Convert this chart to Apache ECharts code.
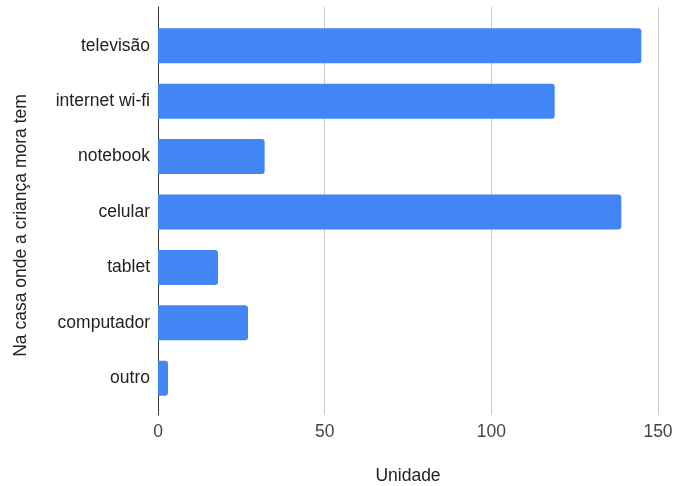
<!DOCTYPE html>
<html>
<head>
<meta charset="utf-8">
<script src="https://cdn.jsdelivr.net/npm/echarts@6/dist/echarts.min.js"></script>
<style>
  html, body { margin: 0; padding: 0; background: #fff; }
  #chart { width: 675px; height: 486px; }
</style>
</head>
<body>
<div id="chart"></div>
<script>
// Itens presentes na casa onde a criança mora
const categories = ['televisão', 'internet wi-fi', 'notebook', 'celular', 'tablet', 'computador', 'outro'];
const values = [145, 119, 32, 139, 18, 27, 3];
const xTicks = { min: 0, max: 150, interval: 50 };
const xTitle = 'Unidade';
const yTitle = 'Na casa onde a criança mora tem';

const font = 'Arial, "Liberation Sans", sans-serif';
const fs = 17.5;
const chart = echarts.init(document.getElementById('chart'), null, { renderer: 'canvas' });

chart.setOption({
  backgroundColor: '#ffffff',
  animation: false,
  grid: [
    // frame grid: gridlines, x labels, baseline and axis titles
    { left: 158, right: 17, top: 7, bottom: 71, containLabel: false, outerBoundsMode: 'none' },
    // bar grid
    { left: 158, right: 17, top: 18, bottom: 80, containLabel: false, outerBoundsMode: 'none' }
  ],
  xAxis: [
    {
      gridIndex: 0, type: 'value', position: 'bottom',
      axisLine: { show: false, onZero: false }, axisTick: { show: false },
      min: xTicks.min, max: xTicks.max, interval: xTicks.interval,
      name: xTitle, nameLocation: 'middle', nameGap: 52,
      nameTextStyle: { color: '#222', fontSize: fs, fontFamily: font },
      axisLabel: { color: '#444', fontSize: fs, fontFamily: font, margin: 8 },
      splitLine: { show: true, lineStyle: { color: '#cccccc', width: 1 } }
    },
    {
      gridIndex: 1, type: 'value',
      min: xTicks.min, max: xTicks.max, interval: xTicks.interval,
      show: false
    }
  ],
  yAxis: [
    {
      gridIndex: 0, type: 'value', min: 0, max: 1,
      name: yTitle, nameLocation: 'middle', nameGap: 128, nameRotate: 90,
      nameTextStyle: { color: '#222', fontSize: fs, fontFamily: font, padding: [0, 29, 0, 0] },
      axisLine: { show: true, lineStyle: { color: '#333333', width: 1 } },
      axisTick: { show: false }, axisLabel: { show: false },
      splitLine: { show: false }
    },
    {
      gridIndex: 1, type: 'category', data: categories, inverse: true,
      axisLine: { show: false }, axisTick: { show: false },
      axisLabel: { color: '#222', fontSize: fs, fontFamily: font, margin: 8 },
      splitLine: { show: false }
    }
  ],
  series: [{
    type: 'bar',
    xAxisIndex: 1, yAxisIndex: 1,
    data: values,
    barWidth: 35,
    itemStyle: { color: '#4285F4', borderRadius: [0, 3, 3, 0] },
    z: 1
  }]
});
</script>
</body>
</html>
